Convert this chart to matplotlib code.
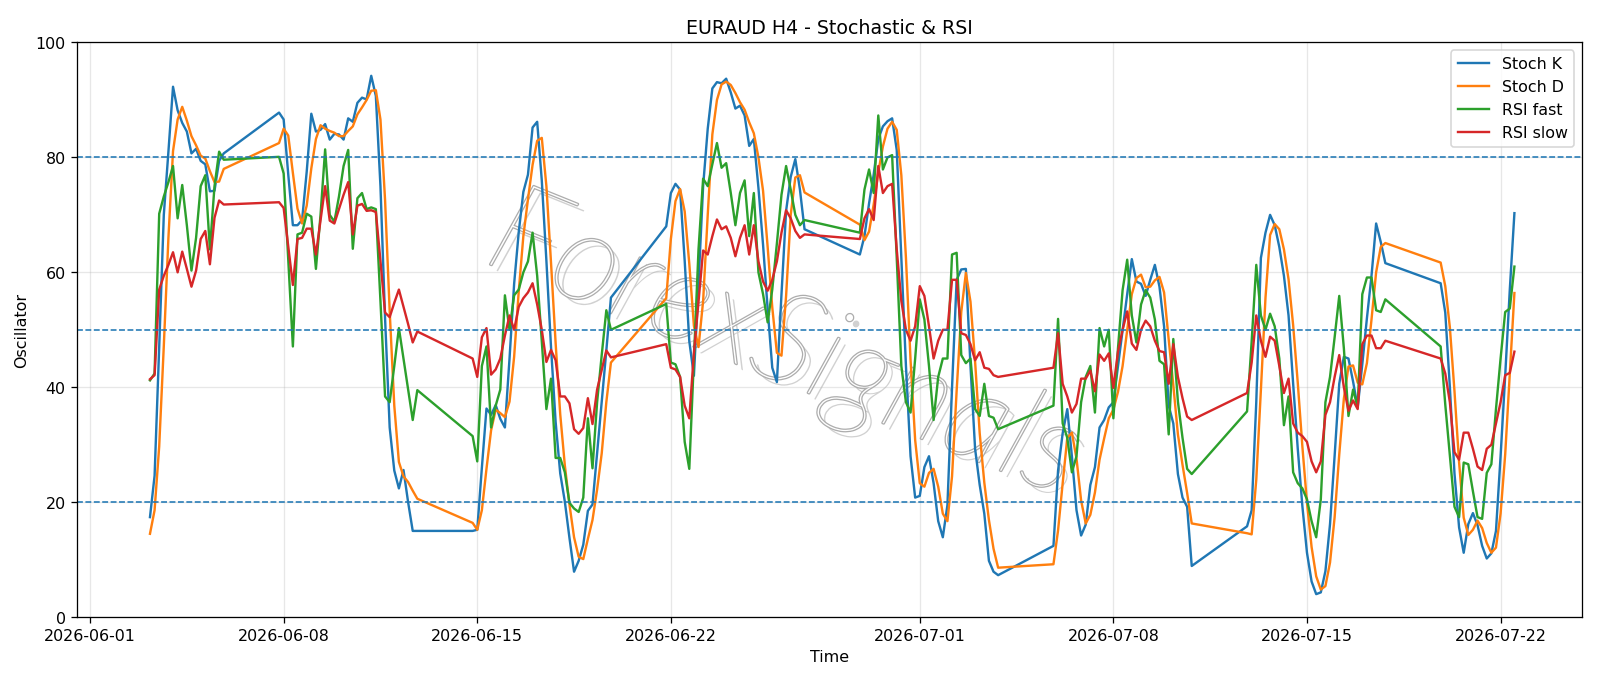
import matplotlib
matplotlib.use("Agg")
import matplotlib.pyplot as plt
import matplotlib.patheffects as pe
import pandas as pd

# trading sessions (H4 bars), first bar of each week and number of bars
session_starts = ["2026-06-03 04:00", "2026-06-07 20:00", "2026-06-14 20:00", "2026-06-21 20:00",
                  "2026-06-28 20:00", "2026-07-05 20:00", "2026-07-12 20:00", "2026-07-19 20:00"]
session_bars = [17, 31, 31, 31, 31, 31, 31, 17]

stoch_k = [
    17.4, 24.6, 47, 70, 81, 92.3, 88.2, 86, 84.5, 80.7, 81.5, 79.4, 78.8, 74.1, 74.2, 79.4, 80.7,
    87.8, 86.6, 77, 68.2, 68.2, 69.1, 77.5, 87.6, 84.5, 84.8, 85.8, 83.1, 84.1, 84, 83.1, 86.8,
    86.2, 89.5, 90.4, 90.1, 94.2, 90.7, 75, 52, 33, 25.5, 22.4, 25.6, 20, 15, 15,
    15, 15.2, 26, 36.3, 35.2, 36.9, 34.5, 33, 45, 58, 67, 74, 77, 85.2, 86.2, 76,
    62, 47, 34, 25, 20.1, 13.8, 7.9, 9.8, 12.6, 18.5, 19.6, 28.5, 37.4, 46.4, 55.6,
    68, 73.8, 75.4, 74.4, 62, 48, 42, 58, 75, 85, 92, 93.1, 92.9, 93.7, 91.3, 88.5,
    89, 87.3, 82, 83.2, 74.7, 64.8, 53.6, 43.4, 40.9, 56.2, 70.7, 76.6, 79.7, 74.4, 67.5,
    63.1, 66.3, 72, 77, 83.2, 85.4, 86.3, 86.8, 81.3, 62.5, 43.7, 28, 20.8, 21.1, 26.1, 28,
    23.3, 16.7, 13.9, 19.5, 40, 58.7, 60.5, 60.6, 43.7, 29.3, 23, 18, 9.8, 7.9, 7.3,
    12.4, 25.5, 32, 36.2, 28, 18.6, 14.2, 16.1, 23, 26.1, 33, 34.3, 36.5, 37.4, 43.7, 50,
    56.2, 62.3, 58.4, 58, 55.9, 58.7, 61.3, 57.5, 50.6, 36.8, 33.7, 24.9, 20.8, 19.2, 8.9,
    15.8, 18.6, 37.4, 62.5, 66.9, 70, 68.2, 64.4, 59.4, 52.5, 40.6, 29.3, 19.3, 11.2, 6.2, 4,
    4.3, 8, 16.2, 28.1, 40.6, 45.3, 45, 41, 36.5, 44, 52, 59.4, 68.5, 65.3, 61.6,
    58.1, 53, 40, 25, 15.6, 11.2, 16.2, 18.1, 16, 12.4, 10.2, 11.1, 15, 28, 42, 57, 70.3,
]

stoch_d = [
    14.5, 18.6, 29.7, 47.2, 66, 81.1, 86.6, 88.8, 86.4, 83.7, 82.1, 80.3, 79.8, 77.6, 75.7, 75.8, 78,
    82.5, 85, 83.8, 77.3, 71.1, 68.5, 71.6, 78.1, 83.2, 85.6, 85, 84.6, 84.3, 83.7, 83.7, 84.6,
    85.4, 87.5, 88.7, 90, 91.6, 91.7, 86.6, 72.6, 53.3, 36.8, 27, 24.5, 23.5, 22, 20.6,
    16.4, 15.2, 18.6, 25.8, 32.5, 36.1, 35.5, 34.8, 37.5, 45.3, 56.7, 66.3, 72.7, 78.7, 82.9, 83.4,
    75, 61.7, 47.7, 35.3, 26.4, 19.6, 13.9, 10.5, 10.1, 13.6, 16.9, 22.2, 28.5, 37.4, 44.3,
    55.5, 65.8, 72.4, 74.5, 70.6, 61.5, 50.7, 47, 55, 70, 84, 90, 92.7, 93.2, 92.6, 91.2,
    89.6, 88.3, 86.1, 84.2, 80, 74.2, 64.4, 53.9, 46, 45.5, 55.9, 70, 76.5, 76.9, 73.9,
    68.3, 65.6, 67.1, 71.8, 77.4, 81.9, 85, 86.2, 84.8, 76.9, 62.5, 44.7, 30.8, 23.3, 22.7, 25.1,
    25.8, 22.7, 18, 16.7, 24.5, 39.4, 53.1, 59.9, 54.9, 44.5, 32, 23.4, 16.9, 11.9, 8.6,
    9.2, 15.1, 23.3, 31.2, 32.1, 27.6, 20.3, 16.3, 17.8, 21.7, 27.4, 31.1, 34.6, 36.1, 39.2, 43.7,
    50, 56.2, 59, 59.6, 57.4, 57.5, 58.6, 59.2, 56.5, 48.3, 40.4, 31.8, 26.5, 21.6, 16.3,
    14.6, 14.4, 23.9, 39.5, 55.6, 66.5, 68.4, 67.5, 64, 58.8, 50.8, 40.8, 29.7, 19.9, 12.2, 7.1,
    4.8, 5.4, 9.5, 17.4, 28.3, 38, 43.6, 43.8, 40.8, 40.5, 44.2, 51.8, 60, 64.4, 65.1,
    61.7, 57.6, 50.4, 39.3, 26.9, 17.3, 14.3, 15.2, 16.8, 15.5, 12.9, 11.2, 12.1, 18, 28.3, 42.3, 56.4,
]

rsi_fast = [
    41.2, 42.4, 70.2, 73.2, 75.7, 78.5, 69.4, 75.2, 68.2, 60.3, 66, 75, 76.9, 64, 75, 81, 79.6,
    80.1, 77.2, 62, 47.1, 66.6, 66.9, 70.2, 69.7, 60.6, 70, 81.4, 70, 68.8, 73.2, 78.5, 81.3,
    64.1, 72.9, 73.8, 71, 71.3, 71, 55, 38.4, 37.4, 43.7, 50.3, 45, 39.6, 34.3, 39.5,
    31.5, 27.1, 43.7, 47.1, 33, 36.8, 39.6, 56, 50, 56, 57, 60, 61.9, 66.9, 59.4, 48,
    36.2, 41.5, 27.7, 27.7, 25.2, 19.9, 18.9, 18.3, 20.8, 34.6, 25.9, 37.4, 45.6, 53.4, 50,
    54.5, 44.3, 44, 41.8, 30.5, 25.8, 45, 64, 76.3, 75, 78.8, 82.5, 78.2, 79, 73.8, 68.2,
    73.8, 76, 66.3, 73.8, 60, 56.2, 51.3, 57, 65, 73.5, 78.5, 74.4, 70, 68.2, 69.1,
    66.9, 74.4, 77.9, 73.8, 87.3, 77.9, 80, 80.4, 62.5, 43.7, 37.4, 35.6, 45, 55.3, 51.8, 43.7,
    34.3, 41.8, 45, 45, 63.1, 63.4, 45.6, 44.2, 45, 36.2, 35, 40.6, 35, 34.7, 32.7,
    36.8, 51.9, 33.7, 31.2, 25.2, 28, 37.4, 41.8, 43.7, 35.6, 50.3, 47.1, 50, 34.6, 46.8, 56.9,
    62.2, 52.5, 47.8, 54.4, 56.9, 55.6, 51.8, 44.6, 44, 31.8, 48.4, 37.5, 31.2, 25.8, 24.9,
    35.8, 48, 61.3, 52.5, 50, 52.8, 50.6, 45, 33.4, 38.4, 25.2, 23.3, 22.4, 20.5, 16.7, 13.9,
    20.5, 37.4, 41.8, 48.7, 55.9, 46.8, 35, 39.6, 36.5, 56.2, 59.1, 59.1, 53.4, 53.1, 55.3,
    47.1, 37, 28, 19.2, 17.4, 26.9, 26.6, 21.9, 17.4, 17.1, 25.1, 26.6, 36.2, 45, 53.1, 53.7, 61,
]

rsi_slow = [
    41.4, 42.1, 57, 59.4, 61.3, 63.5, 60, 63.6, 60.6, 57.5, 60.3, 65.8, 67.2, 61.4, 69.5, 72.5, 71.8,
    72.2, 71.2, 64.5, 57.8, 65.8, 66, 67.6, 67.6, 63.1, 69, 75, 69, 68.5, 71, 73.5, 75.7,
    66.6, 71.6, 71.9, 70.7, 70.8, 70.5, 62, 53, 52.2, 54.7, 57, 54, 51, 47.8, 49.7,
    45, 41.8, 48.7, 50.3, 42.2, 43.1, 45, 49, 52.5, 50, 54, 55.5, 56.5, 58.1, 54.4, 50,
    44.4, 46.5, 44.7, 38.4, 38.4, 37.2, 32.7, 31.9, 32.9, 38.1, 33.6, 39.6, 43, 46.4, 45.2,
    47.5, 43.4, 43.1, 41.8, 36.8, 34.6, 46, 55, 63.8, 63.1, 66.3, 69.2, 67.5, 68, 66, 62.8,
    66, 68.2, 63.1, 68.2, 61.9, 58.4, 56.8, 58.7, 61.9, 66.9, 70.8, 69.4, 67.2, 66, 66.6,
    65.8, 69.4, 71, 69.1, 78.5, 73.8, 75, 75.4, 64, 55, 50, 48.1, 50.6, 57.6, 55.9, 50.6,
    45, 48.1, 50, 50, 58.7, 58.7, 49.4, 49.1, 47.5, 44.7, 46.1, 43.4, 43.2, 42.1, 41.8,
    43.4, 49.4, 40.6, 38.4, 35.6, 37.1, 41.5, 41.5, 42.9, 39.3, 45.7, 44.6, 45.9, 39.9, 46.2, 50,
    53.2, 47.6, 46.5, 50, 51.6, 50.6, 48.1, 46.3, 46.1, 40.6, 47.5, 41.8, 38.1, 34.9, 34.3,
    39, 44.3, 52.5, 48.1, 45.3, 48.8, 48.1, 43.7, 39, 41.5, 33.7, 32.1, 31.5, 30.5, 27.1, 25.2,
    27.1, 35.2, 37.4, 41.8, 45.6, 40, 35.9, 37.7, 36.2, 47.5, 49, 49, 46.8, 46.8, 48.1,
    45, 42.4, 37.4, 28.7, 27.4, 32.1, 32.1, 29.3, 26.2, 25.6, 29.3, 30, 33.7, 37.4, 42.1, 42.5, 46.2,
]

levels = [20, 50, 80]

times = pd.DatetimeIndex([])
for start, n in zip(session_starts, session_bars):
    times = times.append(pd.date_range(start, periods=n, freq="4h"))

fig, ax = plt.subplots(figsize=(14, 6), dpi=1600 / 14)
fig.subplots_adjust(left=0.048, right=0.989, top=0.937, bottom=0.099)

ax.plot(times, stoch_k, label="Stoch K")
ax.plot(times, stoch_d, label="Stoch D")
ax.plot(times, rsi_fast, label="RSI fast")
ax.plot(times, rsi_slow, label="RSI slow")

for lv in levels:
    ax.axhline(lv, linestyle="--", linewidth=1, color="C0")

# watermark
ax.text(0.47, 0.47, "ForexSignals", transform=ax.transAxes, rotation=-22,
        fontsize=80, style="italic", weight="light", family="Lato", color="white",
        ha="center", va="center", zorder=0.8,
        path_effects=[pe.SimplePatchShadow(offset=(4, -4), shadow_rgbFace="0.6", alpha=0.45),
                      pe.Stroke(linewidth=1.6, foreground="0.68"), pe.Normal()])

ax.set_ylim(0, 100)
ax.set_xlim(pd.Timestamp("2026-05-31 12:30"), pd.Timestamp("2026-07-24 23:00"))
ax.grid(True, alpha=0.3)
ax.set_title("EURAUD H4 - Stochastic & RSI")
ax.set_xlabel("Time")
ax.set_ylabel("Oscillator")
ax.legend(loc="upper right")

fig.savefig("out.png")
